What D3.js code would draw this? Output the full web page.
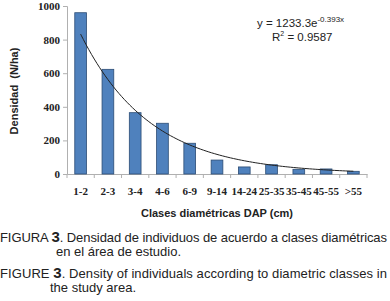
<!DOCTYPE html>
<html><head><meta charset="utf-8">
<script src="https://cdn.jsdelivr.net/npm/d3@7"></script>
<style>body{margin:0;background:#fff}svg{display:block}</style>
</head><body>
<svg id="c" width="390" height="301"></svg>
<script>
const categories = ["1-2","2-3","3-4","4-6","6-9","9-14","14-24","25-35","35-45","45-55",">55"];
const density = [960, 623, 365, 302, 183, 83, 42, 55, 28, 30, 16];
const yTicks = [0, 200, 400, 600, 800, 1000];
// exponential trendline coefficients as printed on the chart
const trendA = [1233.3];
const trendB = [-0.393];

const svg = d3.select("#c");
const m = {l:67, r:367, t:6, b:174};
const x = d3.scaleBand().domain(categories).range([m.l, m.r]).paddingInner(0.57).paddingOuter(0.285);
const y = d3.scaleLinear().domain([0,1000]).range([m.b, m.t]);

// y axis
const ya = svg.append("g").attr("transform",`translate(${m.l},0)`)
  .call(d3.axisLeft(y).tickValues(yTicks).tickSize(4).tickPadding(3).tickFormat(d3.format("d")));
ya.select(".domain").attr("stroke","#b0b0b0");
ya.selectAll(".tick line").attr("stroke","#b0b0b0");
ya.selectAll("text").attr("font-family","Liberation Serif").attr("font-weight","bold").attr("font-size","11px").attr("fill","#222");

// x axis
const xa = svg.append("g").attr("transform",`translate(0,${m.b})`)
  .call(d3.axisBottom(x).tickSize(0).tickPadding(13));
xa.select(".domain").attr("stroke","#b0b0b0");
xa.selectAll("text").attr("font-family","Liberation Serif").attr("font-weight","bold").attr("font-size","11px").attr("fill","#222");
// boundary ticks
const step = x.step();
svg.append("g").selectAll("line").data(d3.range(categories.length+1)).join("line")
  .attr("x1", i => m.l + i*step).attr("x2", i => m.l + i*step)
  .attr("y1", m.b).attr("y2", m.b+4).attr("stroke","#b0b0b0");

// bars
svg.append("g").selectAll("rect").data(density).join("rect")
  .attr("x",(d,i)=>x(categories[i])).attr("width",x.bandwidth())
  .attr("y",d=>y(d)).attr("height",d=>y(0)-y(d))
  .attr("fill","#4f81bd").attr("stroke","#2c4d75").attr("stroke-width",0.8);

// trendline
const tpts = d3.range(1, categories.length+0.001, 0.1).map(t => [t, trendA[0]*Math.exp(trendB[0]*t)]);
const xc = t => x(categories[0]) + x.bandwidth()/2 + (t-1)*step;
svg.append("path").datum(tpts)
  .attr("d", d3.line().x(d=>xc(d[0])).y(d=>y(d[1])).curve(d3.curveBasis))
  .attr("fill","none").attr("stroke","#222").attr("stroke-width",1);

// equation
const eq = svg.append("text").attr("x",257).attr("y",27).attr("font-family","Liberation Sans").attr("font-size","11.5px").attr("fill","#222");
eq.append("tspan").text("y = 1233.3e");
eq.append("tspan").attr("dy",-5).attr("font-size","8px").text("-0.393x");
const r2 = svg.append("text").attr("x",272).attr("y",41).attr("font-family","Liberation Sans").attr("font-size","11.5px").attr("fill","#222");
r2.append("tspan").text("R");
r2.append("tspan").attr("dy",-5).attr("font-size","7px").text("2");
r2.append("tspan").attr("dy",5).text(" = 0.9587");

// axis titles
svg.append("text").attr("transform","translate(18,91) rotate(-90)").attr("text-anchor","middle")
  .attr("font-family","Liberation Sans").attr("font-weight","bold").attr("font-size","11px").attr("fill","#222")
  .attr("xml:space","preserve").text("Densidad  (N/ha)");
svg.append("text").attr("x",217).attr("y",217).attr("text-anchor","middle")
  .attr("font-family","Liberation Sans").attr("font-weight","bold").attr("font-size","11px").attr("fill","#222")
  .text("Clases diamétricas DAP (cm)");

// captions
function cap(xp, yp, parts, len){
  const t = svg.append("text").attr("x",xp).attr("y",yp).attr("font-family","Liberation Sans").attr("font-size","13px").attr("fill","#222");
  parts.forEach(p => t.append("tspan").attr("font-weight",p[1]?"bold":"normal").attr("font-size",p[1]?"15px":"13px").text(p[0]));
  if (len) t.attr("textLength",len).attr("lengthAdjust","spacing");
  return t;
}
cap(0,242,[["FIGURA ",0],["3",1],[". Densidad de individuos de acuerdo a clases diamétricas",0]], 387);
cap(56,256,[["en el área de estudio.",0]]);
cap(0,278,[["FIGURE ",0],["3",1],[". Density of individuals according to diametric classes in",0]], 387);
cap(50,292,[["the study area.",0]]);
</script>
</body></html>
